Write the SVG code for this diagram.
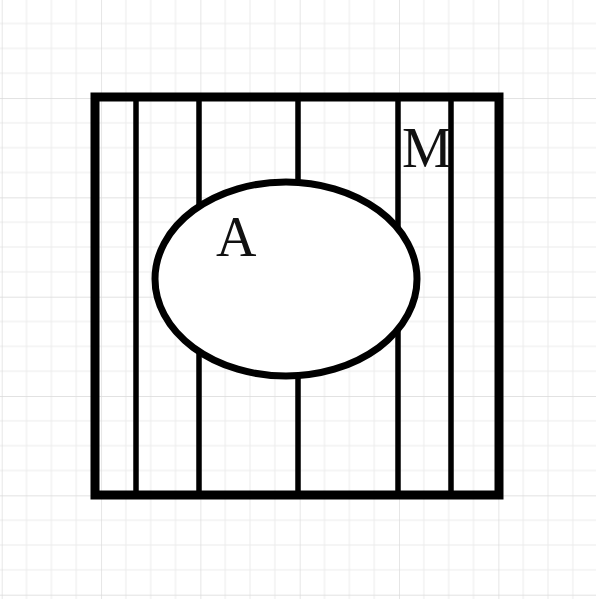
<svg xmlns="http://www.w3.org/2000/svg" width="596" height="599" viewBox="0 0 596 599">
<defs>
<style>
.minor{stroke:#ececec;stroke-width:1;fill:none}
.major{stroke:#d9d9d9;stroke-width:1.3;fill:none}
.hatch{stroke:#000;stroke-width:5.5;fill:none}
.lbl{font-family:"Liberation Serif","DejaVu Serif",serif;font-size:56px;fill:#111}
</style>
<pattern id="grid" x="1.7" y="-1.3" width="99.33" height="99.33" patternUnits="userSpaceOnUse">
<path class="minor" d="M24.83 0V99.33M49.67 0V99.33M74.5 0V99.33M0 24.83H99.33M0 49.67H99.33M0 74.5H99.33"/>
<path class="major" d="M0 0V99.33M0 0H99.33"/>
</pattern>
</defs>
<rect width="596" height="599" fill="#fff"/>
<rect width="596" height="599" fill="url(#grid)"/>
<g id="universe">
<path class="hatch" d="M136 97V495M199 97V495M298 97V495M398 97V495M451 97V495"/>
<rect x="95" y="97" width="404" height="398" fill="none" stroke="#000" stroke-width="9"/>
</g>
<g id="setA">
<ellipse cx="286" cy="279" rx="131" ry="97" fill="#fff" stroke="#000" stroke-width="7"/>
</g>
<text id="labelM" class="lbl" x="402" y="167">M</text>
<text id="labelA" class="lbl" x="216" y="256">A</text>
</svg>
